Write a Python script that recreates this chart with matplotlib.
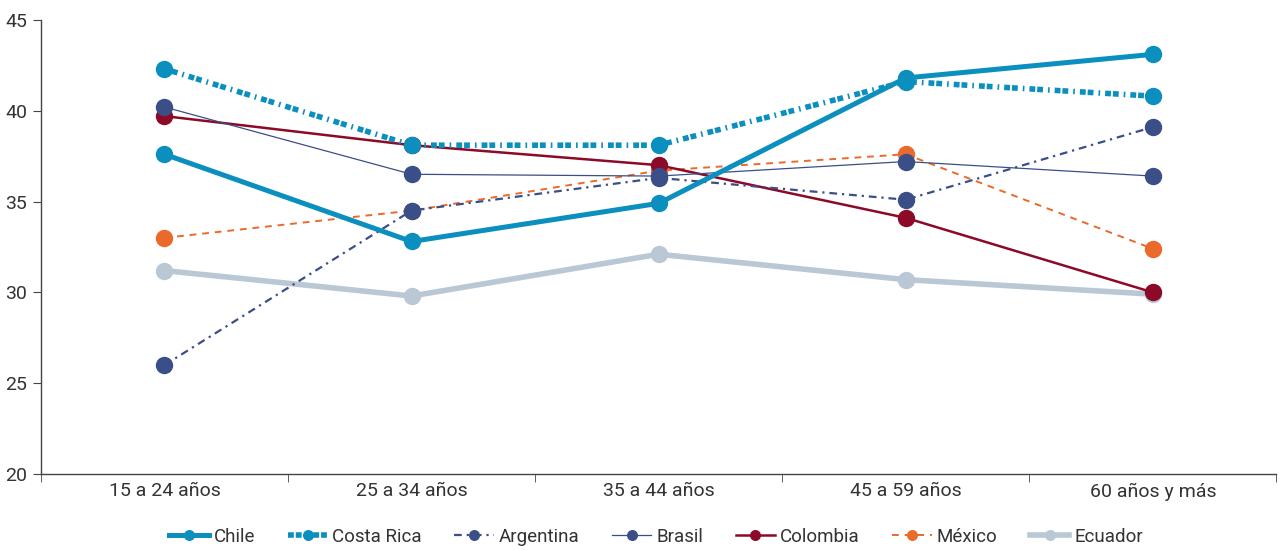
import matplotlib
matplotlib.use("Agg")
import matplotlib.pyplot as plt

plt.rcParams['font.family'] = ['Roboto', 'DejaVu Sans']

categories = ['15 a 24 años', '25 a 34 años', '35 a 44 años', '45 a 59 años', '60 años y más']

chile = [37.6, 32.8, 34.9, 41.8, 43.1]
costa_rica = [42.3, 38.1, 38.1, 41.6, 40.8]
argentina = [26.0, 34.5, 36.3, 35.1, 39.1]
brasil = [40.2, 36.5, 36.4, 37.2, 36.4]
colombia = [39.7, 38.1, 37.0, 34.1, 30.0]
mexico = [33.0, 34.5, 36.7, 37.6, 32.4]
ecuador = [31.2, 29.8, 32.1, 30.7, 29.9]

blue = '#0b8fbf'
navy = '#3a4f88'
red = '#8c0a28'
orange = '#ea6a2c'
grey = '#b9c8d4'

fig = plt.figure(figsize=(12.79, 5.5), dpi=100)
ax = fig.add_axes([0.032, 0.138, 0.966, 0.826])

x = range(len(categories))
ms = 11.5

ax.plot(x, ecuador, color=grey, lw=4, marker='o', ms=ms, label='Ecuador', zorder=2)
ax.plot(x, mexico, color=orange, lw=1.4, ls=(0, (3.5, 3)), marker='o', ms=ms, label='México', zorder=3)
ax.plot(x, colombia, color=red, lw=1.8, marker='o', ms=ms, label='Colombia', zorder=3)
ax.plot(x, brasil, color=navy, lw=0.9, marker='o', ms=ms, label='Brasil', zorder=3)
ax.plot(x, argentina, color=navy, lw=1.6, ls=(0, (3.5, 2.2, 1, 2.2)), marker='o', ms=ms, label='Argentina', zorder=3)
ax.plot(x, costa_rica, color=blue, lw=4, ls=(0, (1.05, 0.35, 1.05, 0.9, 0.3, 0.9)), marker='o', ms=ms, label='Costa Rica', zorder=4)
ax.plot(x, chile, color=blue, lw=3.6, marker='o', ms=ms, label='Chile', zorder=5)

ax.set_xlim(-0.5, 4.5)
ax.set_ylim(20, 45)
ax.set_yticks([20, 25, 30, 35, 40, 45])
ax.set_xticks(list(x))
ax.set_xticklabels(categories)
ax.set_xticks([i - 0.5 for i in range(6)], minor=True)

for s in ['top', 'right']:
    ax.spines[s].set_visible(False)
for s in ['left', 'bottom']:
    ax.spines[s].set_color('#444444')
    ax.spines[s].set_linewidth(1.0)

ax.tick_params(axis='y', length=6, color='#444444', labelsize=14, labelcolor='#333333', pad=4)
ax.tick_params(axis='x', which='major', length=0, labelsize=14, labelcolor='#333333', pad=6)
ax.tick_params(axis='x', which='minor', length=6, color='#444444')

handles, labels = ax.get_legend_handles_labels()
order = ['Chile', 'Costa Rica', 'Argentina', 'Brasil', 'Colombia', 'México', 'Ecuador']
h = [handles[labels.index(n)] for n in order]
leg = fig.legend(h, order, loc='center', bbox_to_anchor=(0.513, 0.024), ncol=7, frameon=False,
                 fontsize=13.5, handlelength=2.1, columnspacing=1.75, handletextpad=0.25, markerscale=0.6)
for t in leg.get_texts():
    t.set_color('#333333')

fig.savefig('out.png', dpi=100)
